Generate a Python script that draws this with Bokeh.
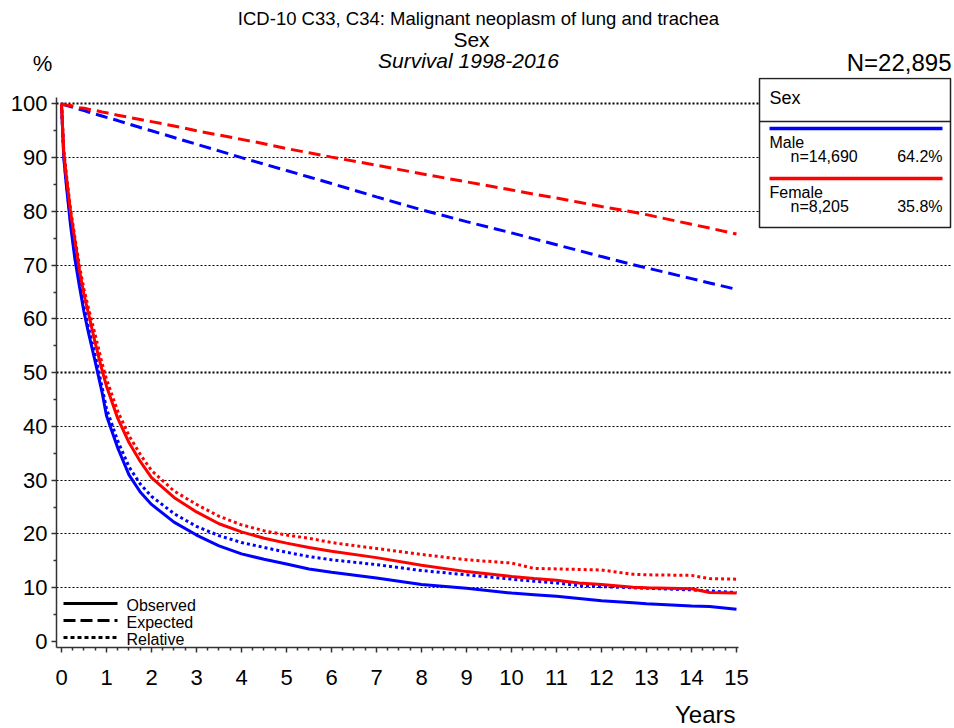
from bokeh.plotting import figure
from bokeh.models import Range1d, FixedTicker, Grid, Label, LinearAxis
from bokeh.layouts import column
from bokeh.embed import file_html
from bokeh.resources import INLINE

# ---------------- data ----------------
years = [0, 0.05, 0.1, 0.2, 0.3, 0.4, 0.5, 0.6, 0.75, 0.9, 1.0, 1.25, 1.5, 1.75, 2.0,
         2.5, 3.0, 3.5, 4.0, 4.5, 5.0, 5.5, 6.0, 7.0, 8.0, 9.0, 10.0, 10.5, 11.0,
         11.5, 12.0, 12.7, 13.0, 14.0, 14.4, 15.0]

male_observed = [100, 90, 85.5, 77.5, 71, 66, 61.3, 57.4, 52, 46.4, 42, 36, 31, 27.8, 25.5,
                 22.2, 19.8, 17.8, 16.3, 15.3, 14.4, 13.5, 12.9, 11.8, 10.6, 9.9, 9.0, 8.7, 8.4,
                 8.0, 7.6, 7.2, 7.0, 6.6, 6.5, 6.0]
male_relative = [100, 90.5, 86, 78.2, 71.7, 66.8, 62.2, 58.4, 53.2, 47.4, 43.3, 37.3, 32.5, 29.3, 27,
                 23.8, 21.4, 19.7, 18.4, 17.5, 16.6, 15.8, 15.2, 14.3, 13.2, 12.4, 11.6, 11.2, 10.9,
                 10.4, 10.2, 10.0, 9.9, 9.6, 9.4, 9.1]
male_expected = [100, 99.9, 99.75, 99.5, 99.25, 99, 98.75, 98.5, 98.1, 97.75, 97.5, 96.9, 96.25, 95.6, 95,
                 93.75, 92.5, 91.25, 90, 88.8, 87.6, 86.4, 85.2, 82.7, 80.3, 78.1, 76.0, 74.9, 73.8,
                 72.7, 71.6, 70.1, 69.5, 67.5, 66.7, 65.5]

female_observed = [100, 91, 87, 80, 74.5, 69, 64.5, 61, 55.5, 50.5, 47.5, 41.5, 37, 33.5, 30.5,
                   26.8, 24.1, 21.9, 20.4, 19.2, 18.3, 17.5, 16.8, 15.6, 14.2, 13.0, 12.1, 11.7, 11.4,
                   10.9, 10.6, 10.1, 10.0, 9.8, 9.1, 9.0]
female_relative = [100, 91.5, 87.5, 80.5, 75, 69.8, 65.5, 62, 57, 51.8, 48.8, 42.8, 38.3, 34.8, 31.8,
                   28.0, 25.5, 23.3, 21.7, 20.6, 19.8, 19.2, 18.4, 17.3, 16.2, 15.2, 14.6, 13.6, 13.5,
                   13.4, 13.3, 12.5, 12.4, 12.3, 11.7, 11.6]
female_expected = [100, 99.9, 99.8, 99.7, 99.5, 99.3, 99.2, 99.0, 98.8, 98.5, 98.35, 97.9, 97.5, 97.1, 96.7,
                   95.9, 95.0, 94.2, 93.4, 92.6, 91.7, 90.9, 90.1, 88.6, 87.0, 85.5, 84.0, 83.2, 82.5,
                   81.7, 80.9, 79.9, 79.4, 77.6, 76.9, 75.8]

x_ticks = list(range(0, 16))
y_ticks = list(range(0, 101, 10))

title_lines = ["ICD-10 C33, C34: Malignant neoplasm of lung and trachea", "Sex", "Survival 1998-2016"]
total_label = "N=22,895"
groups = ["Male", "Female"]
group_n = ["n=14,690", "n=8,205"]
group_pct = ["64.2%", "35.8%"]
line_types = ["Observed", "Expected", "Relative"]

FONT = "Liberation Sans"
BLUE = "#0000FF"
RED = "#FF0000"
AXIS = "#333333"
W = 954
HEAD = 77   # header height (page px)
DY = 6      # baseline correction for label rendering


def blank_fig(h, y0, y1):
    f = figure(width=W, height=h, output_backend="svg", toolbar_location=None,
               x_range=Range1d(0, W), y_range=Range1d(y1, y0),
               min_border_left=0, min_border_right=0, min_border_top=0, min_border_bottom=0,
               x_axis_type=None, y_axis_type=None, frame_align=False)
    f.outline_line_color = None
    f.background_fill_color = "white"
    f.border_fill_color = "white"
    return f


def lab(fig, x, y, text, size, align="left", style="normal", rng=None):
    kw = {}
    if rng:
        kw = dict(x_range_name=rng, y_range_name=rng)
    fig.add_layout(Label(x=x, y=y - DY, text=text, text_font=FONT, text_font_size=size,
                         text_align=align, text_baseline="alphabetic",
                         text_font_style=style, text_color="black", **kw))


# ---------------- header (titles) ----------------
header = blank_fig(HEAD, 0, HEAD)
lab(header, 478, 24, title_lines[0], "18.5px", "center")
lab(header, 471, 45, title_lines[1], "21px", "center")
lab(header, 468, 66, title_lines[2], "21px", "center", "italic")
lab(header, 42, 69, "%", "22px", "center")
lab(header, 951, 68, total_label, "24px", "right")

# ---------------- main chart ----------------
p = figure(width=W, height=700 - HEAD, output_backend="svg", toolbar_location=None,
           x_range=Range1d(-0.1111, 19.8), y_range=Range1d(-1.116, 104.91),
           min_border_left=56, min_border_right=2, min_border_top=0, min_border_bottom=53,
           x_axis_type=None, y_axis_type=None, frame_align=False)
p.outline_line_color = None
p.background_fill_color = "white"
p.border_fill_color = "white"
# page-pixel helper ranges for decorations inside the frame
p.extra_x_ranges = {"px": Range1d(56, 952)}
p.extra_y_ranges = {"px": Range1d(647, HEAD)}

xax = LinearAxis(ticker=FixedTicker(ticks=x_ticks, minor_ticks=[i / 4 for i in range(61) if i % 4]),
                 bounds=(-0.1111, 15.04))
yax = LinearAxis(ticker=FixedTicker(ticks=y_ticks, minor_ticks=list(range(5, 100, 10))),
                 bounds=(-1.116, 101.2))
for ax in (xax, yax):
    ax.axis_line_color = AXIS
    ax.axis_line_width = 1.5
    ax.major_tick_line_color = AXIS
    ax.major_tick_line_width = 1.5
    ax.minor_tick_line_color = AXIS
    ax.minor_tick_line_width = 1.5
    ax.major_tick_in = 0
    ax.major_tick_out = 5
    ax.minor_tick_in = 0
    ax.minor_tick_out = 3
    ax.major_label_text_font = FONT
    ax.major_label_text_font_size = "22px"
    ax.major_label_text_color = "black"
xax.major_label_standoff = 17
yax.major_label_standoff = 4
p.add_layout(xax, "below")
p.add_layout(yax, "left")

g_thin = Grid(dimension=1, ticker=FixedTicker(ticks=[t for t in y_ticks if t not in (0, 50, 100)]),
              grid_line_color="black", grid_line_width=1.2, grid_line_dash="2 2", bounds=(0, 15.05))
g_bold = Grid(dimension=1, ticker=FixedTicker(ticks=[50, 100]),
              grid_line_color="black", grid_line_width=2.2, grid_line_dash="2 2", bounds=(0, 15.05))
p.add_layout(g_thin)
p.add_layout(g_bold)

series = [
    (male_expected, BLUE, "12 6"),
    (male_relative, BLUE, "3 3"),
    (male_observed, BLUE, "solid"),
    (female_expected, RED, "12 6"),
    (female_relative, RED, "3 3"),
    (female_observed, RED, "solid"),
]
for vals, col, dash in series:
    p.line(years, vals, line_color=col, line_width=3, line_dash=dash, line_cap="butt")

# legend box (right)
p.quad(left=759, right=950, top=78, bottom=227, x_range_name="px", y_range_name="px",
       fill_color="white", line_color="#222222", line_width=1.5)
p.segment(x0=759, y0=121, x1=950, y1=121, x_range_name="px", y_range_name="px",
          line_color="#222222", line_width=1.5)
lab(p, 769, 103, "Sex", "18px", rng="px")
for i, (col, y0) in enumerate([(BLUE, 128), (RED, 178)]):
    p.segment(x0=769, y0=y0, x1=942, y1=y0, x_range_name="px", y_range_name="px",
              line_color=col, line_width=3.5)
    lab(p, 769, y0 + 20, groups[i], "16px", rng="px")
    lab(p, 790, y0 + 34, group_n[i], "16px", rng="px")
    lab(p, 942, y0 + 34, group_pct[i], "16px", "right", rng="px")

# line-type legend (bottom left)
for i, (dash, y0) in enumerate([("solid", 603), ("12 5", 620), ("4 3", 637)]):
    p.segment(x0=63, y0=y0, x1=117, y1=y0, x_range_name="px", y_range_name="px",
              line_color="black", line_width=3, line_dash=dash, line_cap="butt")
    lab(p, 126, y0 + 8, line_types[i], "16px", rng="px")

# ---------------- footer (x axis title) ----------------
footer = blank_fig(28, 700, 728)
lab(footer, 735, 720, "Years", "24px", "right")

layout = column(header, p, footer, spacing=0)
open("out.html", "w").write(file_html(layout, INLINE))
